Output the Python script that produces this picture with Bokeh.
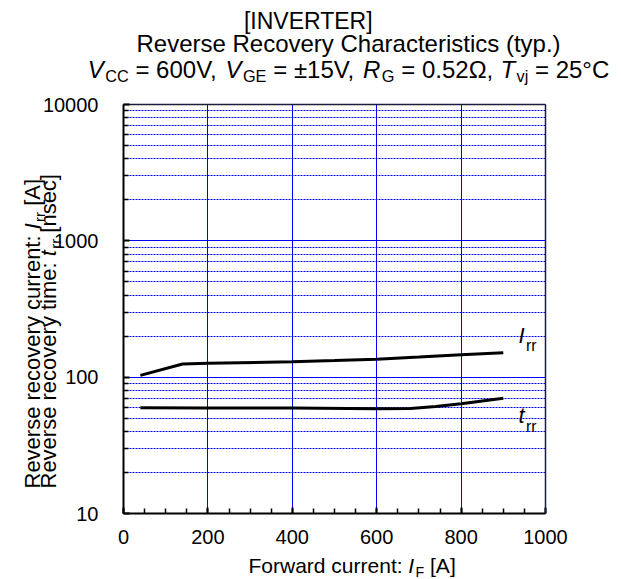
import math
from bokeh.plotting import figure
from bokeh.models import (Label, FixedTicker, LinearAxis, LogAxis, Grid,
                          Range1d)
from bokeh.embed import file_html
from bokeh.resources import INLINE

# ---------------- data ----------------
irr_current = [40, 140, 200, 400, 500, 600, 700, 800, 900]
irr_values = [103, 125, 126.7, 129.6, 132.5, 135.6, 140.5, 145.9, 151]
trr_current = [40, 200, 400, 600, 680, 740, 800, 900]
trr_values = [59.6, 59.5, 59.3, 58.7, 58.9, 61, 63.8, 70.1]

x_ticks = [0, 200, 400, 600, 800, 1000]
x_grid_ticks = [200, 400, 600, 800]
x_minor_ticks = list(range(0, 1001, 50))
y_ticks = [10, 100, 1000, 10000]
y_tick_labels = ["10", "100", "1000", "10000"]
y_minor_ticks = [m * 10 ** k for k in range(1, 4) for m in range(2, 10)]

# ---------------- layout (canvas pixels) ----------------
WIDTH, HEIGHT = 621, 579
L, R, T, B = 123, 545, 104, 513          # plot-area edges
X0, X1 = 0, 1000
Y0, Y1 = 10, 10000
FONT = "Liberation Sans"

XS = (X1 - X0) / (R - L)                  # data units per pixel
DEC = (B - T) / (math.log10(Y1) - math.log10(Y0))   # pixels per decade
x_start = X0 - L * XS
x_end = X1 + (WIDTH - R) * XS
ylog_top = math.log10(Y1) + T / DEC
ylog_bot = math.log10(Y0) - (HEIGHT - B) / DEC


def dx(px):
    return x_start + px * XS


def dy(py):
    return 10 ** (ylog_top - py / DEC)


# Arial / Liberation Sans advance widths (1/1000 em)
AW = {' ': 278, '!': 278, '(': 333, ')': 333, ',': 278, '-': 333, '.': 278, ':': 278,
      '=': 584, '±': 549, '°': 400, 'Ω': 768, '[': 278, ']': 278,
      'A': 667, 'B': 667, 'C': 722, 'D': 722, 'E': 667, 'F': 611, 'G': 778, 'H': 722,
      'I': 278, 'J': 500, 'K': 667, 'L': 556, 'M': 833, 'N': 722, 'O': 778, 'P': 667,
      'Q': 778, 'R': 722, 'S': 667, 'T': 611, 'U': 722, 'V': 667, 'W': 944, 'X': 667,
      'Y': 667, 'Z': 611,
      'a': 556, 'b': 556, 'c': 500, 'd': 556, 'e': 556, 'f': 278, 'g': 556, 'h': 556,
      'i': 222, 'j': 222, 'k': 500, 'l': 222, 'm': 833, 'n': 556, 'o': 556, 'p': 556,
      'q': 556, 'r': 333, 's': 500, 't': 278, 'u': 556, 'v': 500, 'w': 722, 'x': 500,
      'y': 500, 'z': 500}
MID = (0.905 - 0.212) / 2     # baseline offset below the middle of the text box


def text_w(s, size):
    return sum(AW.get(c, 556) for c in s) * size / 1000.0


p = figure(width=WIDTH, height=HEIGHT,
           x_range=Range1d(x_start, x_end),
           y_range=Range1d(10 ** ylog_bot, 10 ** ylog_top),
           y_axis_type="log", x_axis_location=None, y_axis_location=None,
           title=None, output_backend="svg", toolbar_location=None,
           min_border=0, min_border_left=0, min_border_right=0,
           min_border_top=0, min_border_bottom=0)
p.center = []
p.background_fill_color = "white"
p.border_fill_color = "white"
p.outline_line_color = None


def style_axis(ax, width=2, color="black"):
    ax.axis_line_color = color
    ax.axis_line_width = width
    ax.major_tick_in = 6
    ax.major_tick_out = 0
    ax.minor_tick_in = 5
    ax.minor_tick_out = 0
    ax.major_tick_line_color = "black"
    ax.minor_tick_line_color = "black"
    ax.major_tick_line_width = 2
    ax.minor_tick_line_width = 1.5
    ax.major_label_text_font = FONT
    ax.major_label_text_font_size = "20px"
    ax.major_label_text_color = "black"


# grids
has_cb = "cross_bounds" in Grid.properties()
if has_cb:
    xgrid = Grid(dimension=0, ticker=FixedTicker(ticks=x_grid_ticks),
                 grid_line_color="blue", grid_line_width=1,
                 cross_bounds=(Y0, Y1))
    ygrid = Grid(dimension=1,
                 ticker=FixedTicker(ticks=y_ticks, minor_ticks=y_minor_ticks),
                 grid_line_color="blue", grid_line_width=1,
                 minor_grid_line_color="blue", minor_grid_line_dash="2 1",
                 minor_grid_line_width=1, cross_bounds=(X0, X1))
    p.add_layout(xgrid)
    p.add_layout(ygrid)
else:
    p.segment(x0=x_grid_ticks, x1=x_grid_ticks, y0=[Y0] * len(x_grid_ticks),
              y1=[Y1] * len(x_grid_ticks), line_color="blue", line_width=1)
    p.segment(x0=[X0] * len(y_ticks), x1=[X1] * len(y_ticks), y0=y_ticks,
              y1=y_ticks, line_color="blue", line_width=1)
    p.segment(x0=[X0] * len(y_minor_ticks), x1=[X1] * len(y_minor_ticks),
              y0=y_minor_ticks, y1=y_minor_ticks, line_color="blue",
              line_width=1, line_dash="2 1")

# axes placed at fixed data locations around the plot area
xaxis = LinearAxis(fixed_location=Y0, bounds=(X0, X1),
                   ticker=FixedTicker(ticks=x_ticks, minor_ticks=x_minor_ticks))
style_axis(xaxis)
xaxis.major_label_standoff = 16
p.add_layout(xaxis, "below")

yaxis = LogAxis(fixed_location=X0, bounds=(Y0, Y1),
                ticker=FixedTicker(ticks=y_ticks, minor_ticks=y_minor_ticks))
yaxis.major_label_overrides = {t: s for t, s in zip(y_ticks, y_tick_labels)}
style_axis(yaxis)
yaxis.major_label_standoff = 25
p.add_layout(yaxis, "left")

top_axis = LinearAxis(fixed_location=Y1, bounds=(X0, X1),
                      ticker=FixedTicker(ticks=[]))
style_axis(top_axis, width=1.5, color="#1c1c3c")
p.add_layout(top_axis, "above")

right_axis = LogAxis(fixed_location=X1, bounds=(Y0, Y1),
                     ticker=FixedTicker(ticks=[]))
style_axis(right_axis, width=1.5, color="#1c1c3c")
p.add_layout(right_axis, "right")

# curves
p.line(irr_current, irr_values, line_color="black", line_width=3)
p.line(trr_current, trr_values, line_color="black", line_width=3)


def rich(segs, px, py, size, sub_scale=0.7, sub_drop=4, align="left",
         rotated=False):
    """segs: list of (text, style) with style in 'n', 'i', 's'.
    px, py: start (or centre) of the baseline, canvas pixels from top-left."""
    items = []
    total = 0.0
    for txt, st in segs:
        fs = size * sub_scale if st == "s" else size
        lead = len(txt) - len(txt.lstrip(" "))
        lead_w = text_w(txt[:lead], fs)
        w = text_w(txt, fs)
        if st == "i":
            w += 0.06 * size
        items.append((txt.strip(" "), st, fs, total + lead_w))
        total += w
    if rotated:
        start = py + total / 2 if align == "center" else py
    else:
        start = px - total / 2 if align == "center" else px
    for txt, st, fs, off in items:
        down = (sub_drop if st == "s" else 0) - MID * fs
        if rotated:
            sx, sy = px + down, start - off
            ang = math.pi / 2
        else:
            sx, sy = start + off, py + down
            ang = 0
        p.add_layout(Label(x=dx(sx), y=dy(sy), text=txt, angle=ang,
                           text_font=FONT, text_font_size=f"{fs:.1f}px",
                           text_font_style="italic" if st == "i" else "normal",
                           text_color="black", text_align="left",
                           text_baseline="middle"))


# titles
rich([("[INVERTER]", "n")], 308, 28, 23, align="center")
rich([("Reverse Recovery Characteristics (typ.)", "n")], 348, 51, 24, align="center")
rich([("V", "i"), ("CC", "s"), (" = 600V, ", "n"),
      ("V", "i"), ("GE", "s"), (" = ±15V, ", "n"),
      ("R", "i"), ("G", "s"), (" = 0.52Ω, ", "n"),
      ("T", "i"), ("vj", "s"), (" = 25°C", "n")],
     348, 77, 24, sub_scale=0.68, sub_drop=4, align="center")

# axis labels
rich([("Forward current: ", "n"), ("I", "i"), ("F", "s"), (" [A]", "n")],
     248, 572, 21, sub_scale=0.68, sub_drop=4)
rich([("Reverse recovery current: ", "n"), ("I", "i"), ("rr", "s"), (" [A]", "n")],
     40, 488, 22, sub_scale=0.68, sub_drop=4, rotated=True)
rich([("Reverse recovery time: ", "n"), ("t", "i"), ("rr", "s"), (" [nsec]", "n")],
     56, 488, 22, sub_scale=0.68, sub_drop=4, rotated=True)

# curve labels
rich([("I", "i"), ("rr", "s")], 518, 343, 22, sub_scale=0.72, sub_drop=7)
rich([("t", "i"), ("rr", "s")], 518, 423, 22, sub_scale=0.72, sub_drop=8)

open("out.html", "w").write(file_html(p, INLINE))
